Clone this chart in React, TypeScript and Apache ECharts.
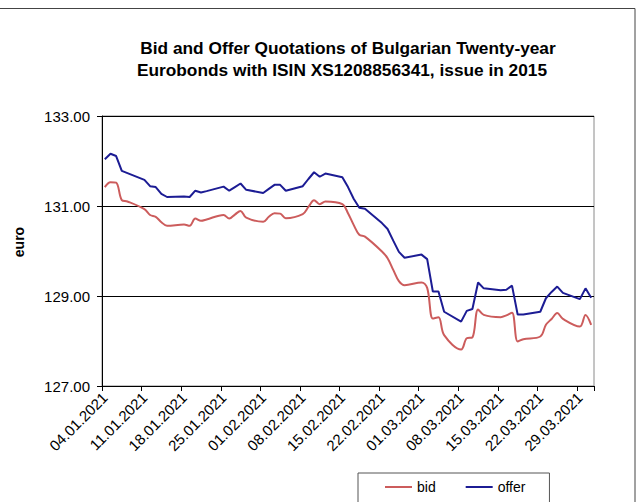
import React, { useEffect, useRef } from "react";
import * as echarts from "echarts";

// Trading-day quotations, 04.01.2021 – 31.03.2021 (weekdays in order)
const bidValues: number[] = [
  131.42, 131.53, 131.52, 131.13, 131.10,
  130.93, 130.80, 130.76, 130.64, 130.56,
  130.59, 130.56, 130.72, 130.67, 130.70,
  130.80, 130.72, 130.81, 130.89, 130.74,
  130.65, 130.76, 130.84, 130.83, 130.73,
  130.82, 130.98, 131.13, 131.04, 131.10,
  131.04, 130.84, 130.58, 130.36, 130.32,
  129.99, 129.84, 129.58, 129.33, 129.24,
  129.30, 129.18, 128.50, 128.53, 128.13,
  127.81, 128.06, 128.08, 128.70, 128.58,
  128.53, 128.57, 128.63, 127.99, 128.04,
  128.10, 128.36, 128.49, 128.62, 128.49,
  128.32, 128.58, 128.36,
];

const offerValues: number[] = [
  132.04, 132.16, 132.11, 131.78, 131.73,
  131.58, 131.44, 131.42, 131.27, 131.20,
  131.21, 131.20, 131.34, 131.30, 131.33,
  131.43, 131.34, 131.42, 131.50, 131.36,
  131.29, 131.38, 131.47, 131.47, 131.34,
  131.44, 131.60, 131.75, 131.65, 131.72,
  131.64, 131.42, 131.16, 130.96, 130.94,
  130.62, 130.49, 130.23, 129.98, 129.85,
  129.92, 129.82, 129.10, 129.10, 128.65,
  128.43, 128.67, 128.71, 129.30, 129.17,
  129.13, 129.14, 129.23, 128.59, 128.59,
  128.65, 128.95, 129.09, 129.21, 129.07,
  128.93, 129.17, 128.96,
];

const titleLines: string[] = [
  "Bid and Offer Quotations of Bulgarian Twenty-year",
  "Eurobonds with ISIN XS1208856341, issue in 2015",
];
const seriesNames: string[] = ["bid", "offer"];
const yTicks: number[] = [127, 129, 131, 133];
const startDate = "2021-01-04";
const dayCount = 87;

function pad(n: number): string {
  return n < 10 ? "0" + n : String(n);
}

function buildDays() {
  const cats: string[] = [];
  const weekday: boolean[] = [];
  const base = new Date(startDate + "T12:00:00Z");
  for (let i = 0; i < dayCount; i++) {
    const d = new Date(base.getTime() + i * 86400000);
    cats.push(pad(d.getUTCDate()) + "." + pad(d.getUTCMonth() + 1) + "." + d.getUTCFullYear());
    const wd = d.getUTCDay();
    weekday.push(wd !== 0 && wd !== 6);
  }
  return { cats, weekday };
}

function spread(values: number[], weekday: boolean[]): (number | null)[] {
  const out: (number | null)[] = [];
  let k = 0;
  for (let i = 0; i < weekday.length; i++) {
    if (weekday[i] && k < values.length) {
      out.push(values[k]);
      k++;
    } else {
      out.push(null);
    }
  }
  return out;
}

const FONT = "'Liberation Sans', Arial, sans-serif";

export default function App() {
  const ref = useRef<HTMLDivElement>(null);

  useEffect(() => {
    if (!ref.current) return;
    document.body.style.margin = "0";
    const chart = echarts.init(ref.current, undefined, { renderer: "svg" });
    const { cats, weekday } = buildDays();
    const bidData = spread(bidValues, weekday);
    const offerData = spread(offerValues, weekday);

    chart.setOption({
      animation: false,
      backgroundColor: "#ffffff",
      textStyle: { fontFamily: FONT },
      grid: {
        left: 102,
        top: 116,
        right: 45,
        bottom: 116,
        show: true,
        borderColor: "#8a8a8a",
        borderWidth: 1,
        containLabel: false,
      },
      legend: {
        left: 358,
        top: 473,
        orient: "horizontal",
        icon: "rect",
        itemWidth: 27,
        itemHeight: 2,
        itemGap: 30,
        padding: [7, 24, 30, 27],
        borderColor: "#555555",
        borderWidth: 1,
        textStyle: { fontSize: 14, color: "#000", fontFamily: FONT },
        data: seriesNames,
      },
      xAxis: {
        type: "category",
        data: cats,
        boundaryGap: true,
        axisLine: { lineStyle: { color: "#000", width: 1 } },
        axisTick: {
          show: true,
          length: 5,
          alignWithLabel: false,
          interval: (i: number) => i % 7 === 0,
          lineStyle: { color: "#000" },
        },
        axisLabel: {
          interval: (i: number) => i % 7 === 0,
          rotate: 45,
          margin: 9,
          fontSize: 15,
          color: "#000",
          fontFamily: FONT,
        },
        splitLine: { show: false },
      },
      yAxis: {
        type: "value",
        min: yTicks[0],
        max: yTicks[yTicks.length - 1],
        interval: 2,
        axisLine: { show: true, lineStyle: { color: "#000", width: 1 } },
        axisTick: { show: true, length: 5, lineStyle: { color: "#000" } },
        axisLabel: {
          margin: 12,
          fontSize: 15,
          color: "#000",
          fontFamily: FONT,
          formatter: (v: number) => v.toFixed(2),
        },
        splitLine: { show: true, lineStyle: { color: "#000", width: 1 } },
      },
      graphic: [
        {
          type: "rect",
          silent: true,
          shape: { x: -2, y: 8.5, width: 637, height: 520 },
          style: { fill: "none", stroke: "#444", lineWidth: 1 },
          z: -1,
        },
        {
          type: "text",
          x: 348,
          y: 48,
          style: {
            text: titleLines[0],
            fill: "#000",
            font: "bold 17.3px " + FONT,
            textAlign: "center",
            textVerticalAlign: "middle",
          },
        },
        {
          type: "text",
          x: 342,
          y: 70,
          style: {
            text: titleLines[1],
            fill: "#000",
            font: "bold 17.3px " + FONT,
            textAlign: "center",
            textVerticalAlign: "middle",
          },
        },
        {
          type: "text",
          x: 19,
          y: 242,
          rotation: Math.PI / 2,
          style: {
            text: "euro",
            fill: "#000",
            font: "bold 14px " + FONT,
            textAlign: "center",
            textVerticalAlign: "middle",
          },
        },
      ],
      series: [
        {
          name: seriesNames[0],
          type: "line",
          data: bidData,
          connectNulls: true,
          smooth: 0.35,
          showSymbol: false,
          symbol: "none",
          color: "#cc5c5c",
          lineStyle: { color: "#cc5c5c", width: 2 },
        },
        {
          name: seriesNames[1],
          type: "line",
          data: offerData,
          connectNulls: true,
          smooth: false,
          showSymbol: false,
          symbol: "none",
          color: "#1c1c94",
          lineStyle: { color: "#1c1c94", width: 2 },
        },
      ],
    });

    return () => {
      chart.dispose();
    };
  }, []);

  return (
    <div
      ref={ref}
      style={{ position: "absolute", left: 0, top: 0, width: 639, height: 502 }}
    />
  );
}
